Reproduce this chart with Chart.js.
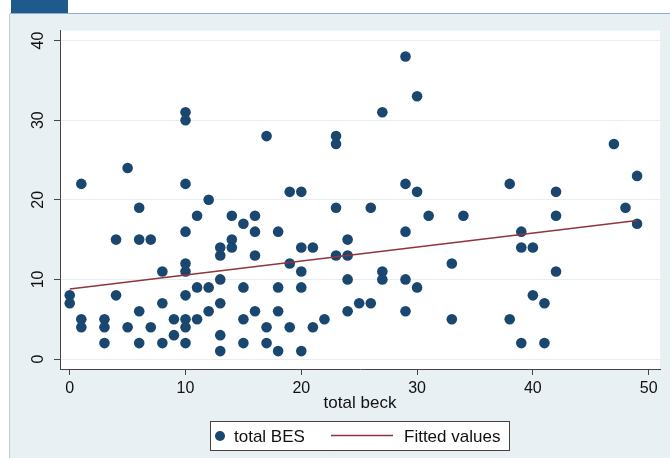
<!DOCTYPE html>
<html>
<head>
<meta charset="utf-8">
<script src="https://cdn.jsdelivr.net/npm/chart.js@4.4.1/dist/chart.umd.min.js"></script>
<style>
  body { margin: 0; background: #fff; width: 670px; height: 458px; position: relative; overflow: hidden; }
  #tab { position: absolute; left: 11px; top: 0; width: 57px; height: 13px; background: #1f5a8c; }
  #rule { position: absolute; left: 10px; top: 13px; width: 660px; height: 1px; background: #8fb0cb; }
  #edge { position: absolute; left: 9px; top: 14px; width: 1px; height: 444px; background: #c8c8c8; }
  #wrap { position: absolute; left: 10px; top: 14px; width: 660px; height: 444px; background: #e9f0f3; }
</style>
</head>
<body>
<div id="tab"></div><div id="rule"></div><div id="edge"></div>
<div id="wrap"><canvas id="c" width="660" height="444"></canvas></div>
<script>
// total beck (x) and total BES (y)
const beck = [
  0, 0, 1, 1, 1, 3, 3, 3, 4, 4, 5, 5, 6, 6, 6, 6, 7, 7, 8, 8, 8, 9, 9,
  10, 10, 10, 10, 10, 10, 10, 10, 10, 10, 11, 11, 11, 12, 12, 12,
  13, 13, 13, 13, 13, 13, 14, 14, 14, 15, 15, 15, 15, 16, 16, 16, 16,
  17, 17, 17, 18, 18, 18, 18, 19, 19, 19, 20, 20, 20, 20, 20, 21, 21, 22,
  23, 23, 23, 23, 24, 24, 24, 24, 25, 26, 26, 27, 27, 27,
  29, 29, 29, 29, 29, 30, 30, 30, 31, 33, 33, 34, 38, 38, 39, 39, 39,
  40, 40, 41, 41, 42, 42, 42, 47, 48, 49, 49
];
const bes = [
  8, 7, 22, 5, 4, 5, 4, 2, 15, 8, 24, 4, 19, 15, 6, 2, 15, 4, 11, 7, 2, 5, 3,
  31, 30, 22, 16, 12, 11, 8, 5, 4, 2, 18, 9, 5, 20, 9, 6,
  14, 13, 10, 7, 3, 1, 18, 15, 14, 17, 9, 5, 2, 18, 16, 13, 6,
  28, 4, 2, 16, 9, 6, 1, 21, 12, 4, 21, 14, 11, 9, 1, 14, 4, 5,
  28, 27, 19, 13, 15, 13, 10, 6, 7, 19, 7, 31, 11, 10,
  38, 22, 16, 10, 6, 33, 21, 9, 18, 12, 5, 18, 22, 5, 16, 14, 2,
  14, 8, 7, 2, 21, 18, 11, 27, 19, 23, 17
];
// fitted line end points
const fitX = [0, 49];
const fitY = [8.8, 17.4];

const xTicks = [0, 10, 20, 30, 40, 50];
const yTicks = [0, 10, 20, 30, 40];

const navy = '#1a476f';
const maroon = '#90353b';
const axisCol = '#444';
const gridCol = '#e6eef1';

const plotBg = {
  id: 'plotBg',
  beforeDraw(chart) {
    const a = chart.chartArea, ctx = chart.ctx;
    ctx.save();
    ctx.fillStyle = '#fff';
    ctx.fillRect(a.left, a.top, a.right - a.left, a.bottom - a.top);
    ctx.restore();
  }
};

// Stata-style boxed legend below the axis title
const boxLegend = {
  id: 'boxLegend',
  afterDraw(chart) {
    const ctx = chart.ctx;
    ctx.save();
    ctx.fillStyle = '#fff';
    ctx.fillRect(200, 407, 299, 29);
    ctx.strokeStyle = axisCol;
    ctx.lineWidth = 1;
    ctx.strokeRect(200.5, 407.5, 299, 29);
    ctx.fillStyle = navy;
    ctx.beginPath();
    ctx.arc(210, 422, 5, 0, Math.PI * 2);
    ctx.fill();
    ctx.strokeStyle = maroon;
    ctx.lineWidth = 1.5;
    ctx.beginPath();
    ctx.moveTo(321, 421.5);
    ctx.lineTo(383, 421.5);
    ctx.stroke();
    ctx.fillStyle = '#111';
    ctx.font = '17px "Liberation Sans", Arial, sans-serif';
    ctx.textBaseline = 'middle';
    ctx.fillText(chart.data.datasets[0].label, 224, 423);
    ctx.fillText(chart.data.datasets[1].label, 394, 423);
    ctx.restore();
  }
};

new Chart(document.getElementById('c'), {
  type: 'scatter',
  data: {
    datasets: [{
      label: 'total BES',
      data: beck.map((x, i) => ({ x: x, y: bes[i] })),
      backgroundColor: navy,
      borderWidth: 0,
      pointRadius: 5.3,
      pointHoverRadius: 5.3,
      order: 1
    }, {
      type: 'line',
      label: 'Fitted values',
      data: fitX.map((x, i) => ({ x: x, y: fitY[i] })),
      borderColor: maroon,
      borderWidth: 1.5,
      pointRadius: 0,
      fill: false,
      order: 0
    }]
  },
  options: {
    responsive: false,
    animation: false,
    layout: { padding: { top: 16, right: 10, left: 0, bottom: 0 } },
    plugins: { legend: { display: false }, tooltip: { enabled: false } },
    scales: {
      x: {
        type: 'linear',
        min: -0.84,
        max: 50.98,
        afterBuildTicks: s => { s.ticks = xTicks.map(v => ({ value: v })); },
        afterFit: s => { s.height = 89; },
        grid: { drawOnChartArea: false, tickColor: axisCol, tickLength: 6 },
        border: { color: axisCol, width: 1 },
        ticks: {
          color: '#111', padding: 4, maxRotation: 0,
          font: { family: '"Liberation Sans", Arial, sans-serif', size: 16 }
        },
        title: {
          display: true, text: 'total beck', color: '#111',
          padding: { top: 0, bottom: 44 },
          font: { family: '"Liberation Sans", Arial, sans-serif', size: 17 }
        }
      },
      y: {
        type: 'linear',
        min: -1.25,
        max: 41.25,
        afterBuildTicks: s => { s.ticks = yTicks.map(v => ({ value: v })); },
        afterFit: s => { s.width = 50; },
        grid: { color: gridCol, lineWidth: 1, tickColor: axisCol, tickLength: 6 },
        border: { color: axisCol, width: 1 },
        ticks: {
          color: '#111', padding: 7, minRotation: 90, maxRotation: 90, crossAlign: 'center',
          font: { family: '"Liberation Sans", Arial, sans-serif', size: 16 }
        }
      }
    }
  },
  plugins: [plotBg, boxLegend]
});
</script>
</body>
</html>
